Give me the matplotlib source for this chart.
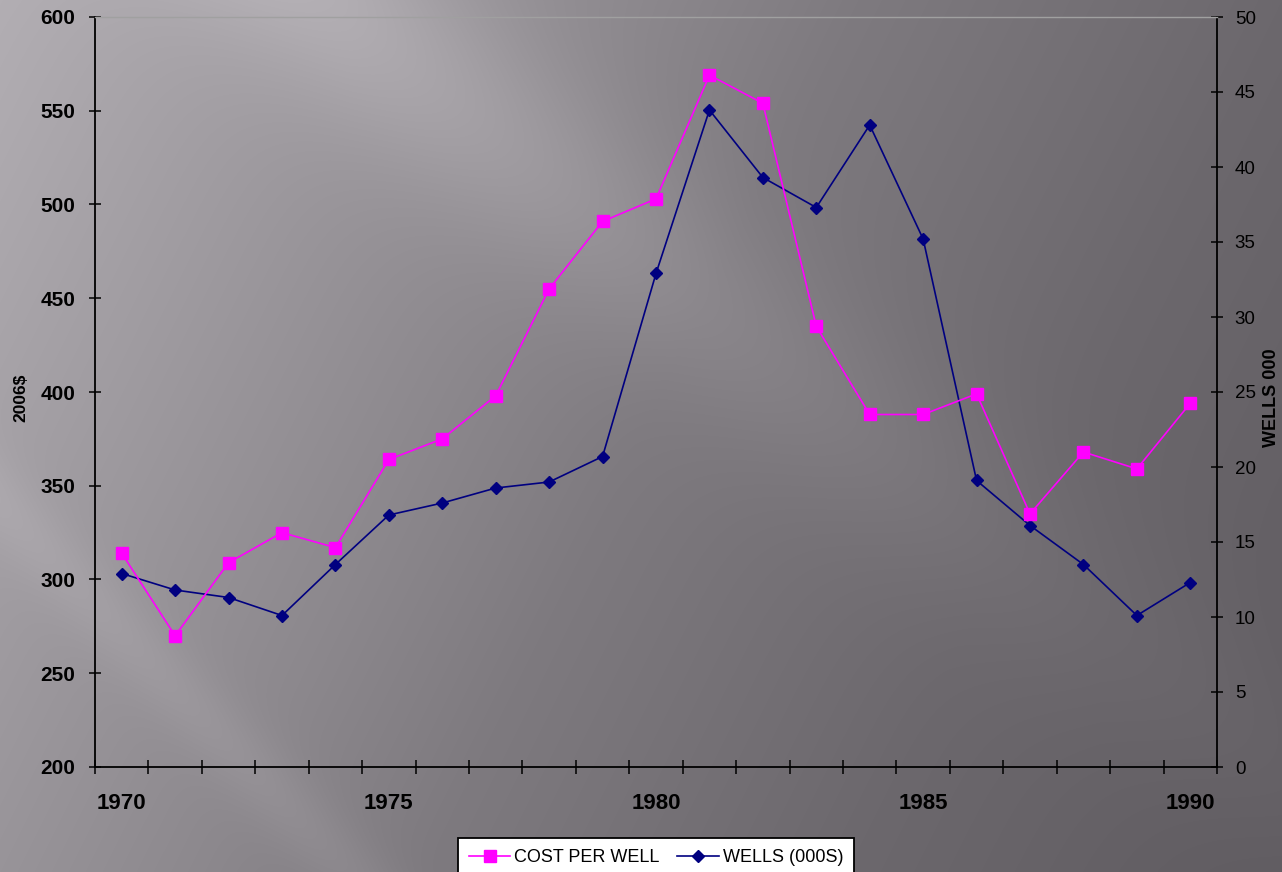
import numpy as np
import matplotlib
matplotlib.use("Agg")
import matplotlib.pyplot as plt
from matplotlib.lines import Line2D

plt.rcParams["font.family"] = ["Liberation Sans", "DejaVu Sans"]

# ---- data ----
years = list(range(1970, 1991))
year_labels = ["1970", "1975", "1980", "1985", "1990"]
cost_per_well = [314, 270, 309, 325, 317, 364, 375, 398, 455, 491, 503,
                 569, 554, 435, 388, 388, 399, 335, 368, 359, 394]
wells_000s = [12.9, 11.8, 11.3, 10.1, 13.5, 16.8, 17.6, 18.6, 19.0, 20.7, 32.9,
              43.8, 39.3, 37.3, 42.8, 35.2, 19.1, 16.1, 13.5, 10.1, 12.3]

W, H = 1282, 872
fig = plt.figure(figsize=(W / 100, H / 100), dpi=100)

# ---- background (gray gradient with diagonal light beams) ----
yy, xx = np.mgrid[0:H, 0:W].astype(float)
d = xx + 0.5 * yy
v = np.interp(d, [0, 436, 640, 858, 1282, 1718], [178, 152, 140, 126, 108, 95])

def band(x0, slope, width, amp):
    dist = (yy - slope * (xx - x0)) / np.sqrt(1 + slope ** 2)
    return amp * np.exp(-(dist / width) ** 2)

fade = np.clip(1.35 - xx / 1000.0, 0.25, 1.0)
v = v + band(330, 0.8, 95, 20) * fade + band(-480, 1.05, 35, 9)
img = np.stack([v, v - 4, v + 1], axis=-1) / 255.0
img = np.clip(img, 0, 1)
bgax = fig.add_axes([0, 0, 1, 1], zorder=0)
bgax.imshow(img, aspect="auto", extent=[0, 1, 0, 1], origin="upper")
bgax.axis("off")

# ---- axes ----
l, r, t, b = 95 / W, 1217 / W, 17 / H, 767 / H
ax = fig.add_axes([l, 1 - b, r - l, b - t], zorder=2)
ax.patch.set_visible(False)
ax2 = ax.twinx()
ax2.set_zorder(1)
ax2.patch.set_visible(False)
ax.set_zorder(3)

x = np.arange(len(years))
ax.plot(x, cost_per_well, color="#FF00FF", lw=1.2, marker="s", ms=8.5,
        mec="#FF00FF", mfc="#FF00FF", clip_on=False)
ax2.plot(x, wells_000s, color="#000080", lw=1.2, marker="D", ms=6,
         mec="#000080", mfc="#000080", clip_on=False)

ax.set_xlim(-0.5, len(years) - 0.5)
ax.set_ylim(200, 600)
ax2.set_ylim(0, 50)
ax.set_yticks(np.arange(200, 601, 50))
ax2.set_yticks(np.arange(0, 51, 5))

ax.set_xticks([years.index(int(s)) for s in year_labels])
ax.set_xticklabels(year_labels)
ax.set_xticks(np.arange(-0.5, len(years) + 0.5, 1.0), minor=True)
ax.tick_params(axis="x", which="major", length=0, pad=19,
               labelsize=16, labelcolor="black")
ax.tick_params(axis="x", which="minor", direction="inout", length=9.5,
               width=1.1, color="black")
for lab in ax.get_xticklabels():
    lab.set_fontweight("bold")

ax.tick_params(axis="y", which="major", direction="inout", length=8.6,
               width=1.1, pad=10, labelsize=15)
for lab in ax.get_yticklabels():
    lab.set_fontweight("bold")
ax2.tick_params(axis="y", which="major", direction="inout", length=8.6,
                width=1.1, pad=8.5, labelsize=13.5)
ax2.tick_params(axis="x", which="both", length=0)

ax.spines["top"].set_color("#a0a0a0")
ax.spines["top"].set_linewidth(1.0)
ax2.spines["top"].set_visible(False)
ax.spines["right"].set_visible(False)
ax2.spines["left"].set_visible(False)
ax2.spines["bottom"].set_visible(False)
ax.spines["left"].set_linewidth(1.3)
ax.spines["bottom"].set_linewidth(1.3)
ax2.spines["right"].set_linewidth(1.3)

fig.text(21 / W, 1 - 398 / H, "2006$", rotation=90, ha="center", va="center",
         fontsize=12.5, fontweight="bold")
fig.text(1271 / W, 1 - 398 / H, "WELLS 000", rotation=90, ha="center", va="center",
         fontsize=13, fontweight="bold")

handles = [
    Line2D([], [], color="#FF00FF", lw=1.2, marker="s", ms=8, mfc="#FF00FF", mec="#FF00FF"),
    Line2D([], [], color="#000080", lw=1.2, marker="D", ms=6, mfc="#000080", mec="#000080"),
]
leg = fig.legend(handles, ["COST PER WELL", "WELLS (000S)"], loc="upper center",
                 bbox_to_anchor=(656 / W, 1 - 838 / H), ncol=2, frameon=True,
                 fancybox=False, framealpha=1, edgecolor="black", facecolor="white",
                 fontsize=13, handlelength=2.3, handletextpad=0.2, columnspacing=1.0,
                 borderpad=0.6, numpoints=1, borderaxespad=0)
leg.get_frame().set_linewidth(1.3)

fig.savefig("out.png", dpi=100)
